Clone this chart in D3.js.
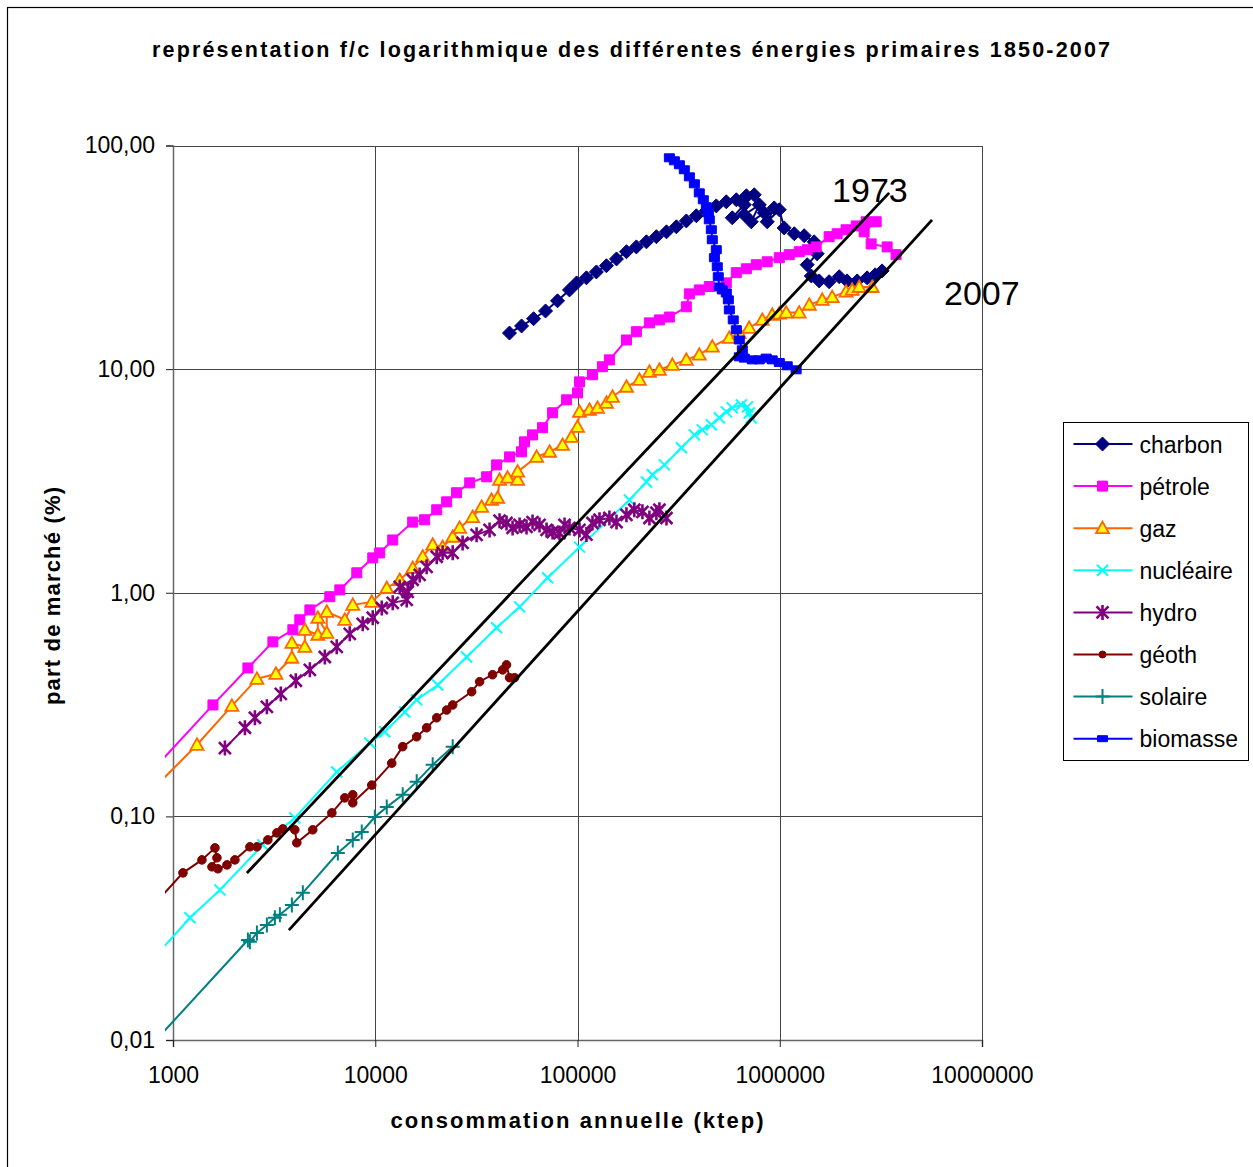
<!DOCTYPE html>
<html>
<head>
<meta charset="utf-8">
<script src="https://cdn.jsdelivr.net/npm/d3@7"></script>
<style>
  body { margin: 0; background: #fff; }
  text { font-family: "Liberation Sans", Arial, sans-serif; }
</style>
</head>
<body>
<div id="chart"></div>
<script>
// values: [consommation annuelle (ktep), part de marché (%)]
const charbon = [[46100,14.5],[52900,15.6],[60640,16.8],[69500,18.2],[79640,20.2],[91270,22.6],[99000,24.3],[110700,25.6],[124000,27.2],[139000,29.0],[155900,31.1],[174600,33.5],[195500,35.2],[219200,37.1],[245500,39.1],[275400,41.1],[308300,43.3],[345300,46.0],[387000,48.5],[433500,51.1],[485500,53.7],[544200,56.0],[610000,57.2],[683900,59.6],[748000,60.2],[668200,54.3],[582400,47.5],[668200,49.0],[792000,54.3],[722800,45.6],[837500,50.0],[939000,52.6],[867000,45.6],[995000,51.6],[1052000,42.8],[1180000,40.3],[1321000,39.5],[1479000,37.1],[1531000,32.8],[1367000,29.3],[1432000,26.1],[1567000,24.8],[1754000,24.6],[1968000,25.9],[2153000,24.8],[2415000,24.8],[2704000,25.6],[2965000,26.4],[3206000,27.5]];
const petrole = [[787,0.160],[1576,0.315],[2346,0.461],[3118,0.603],[3914,0.683],[4236,0.757],[4750,0.838],[5960,0.960],[6680,1.03],[8105,1.228],[9720,1.432],[10520,1.507],[12200,1.722],[15310,2.07],[17540,2.12],[20130,2.35],[22540,2.55],[25230,2.80],[29300,3.10],[35540,3.30],[39800,3.73],[46140,4.05],[52850,4.27],[54700,4.73],[59940,5.08],[67140,5.47],[75300,6.38],[88300,7.29],[100000,7.83],[102300,8.77],[118600,9.44],[132800,10.25],[143800,11.0],[174600,13.5],[195500,14.7],[226800,16.1],[254100,16.6],[284600,17.1],[345300,19.0],[357400,21.7],[400000,22.6],[448400,23.4],[544200,24.3],[609900,27.0],[683900,28.1],[765600,29.3],[867000,30.2],[995000,31.5],[1114000,32.5],[1248000,33.5],[1367000,34.2],[1514000,35.2],[1754000,39.1],[1923000,40.3],[2128000,42.0],[2388000,43.7],[2673000,45.6],[2997000,45.6],[2614000,41.1],[2831000,36.3],[3396000,35.2],[3760000,32.5]];
const gaz = [[787,0.131],[1314,0.209],[1955,0.312],[2600,0.412],[3226,0.434],[3870,0.512],[3870,0.597],[4487,0.573],[4487,0.683],[5200,0.649],[5200,0.773],[5757,0.662],[5757,0.822],[7066,0.757],[7741,0.883],[9610,0.910],[11400,1.05],[13210,1.14],[15310,1.29],[17170,1.45],[19230,1.64],[21530,1.60],[24150,1.78],[26130,1.95],[30290,2.18],[33560,2.42],[37580,2.60],[40270,2.66],[41170,3.20],[45100,3.27],[50580,3.20],[50580,3.48],[62800,4.05],[72780,4.27],[84330,4.58],[93370,4.98],[100000,5.52],[102300,6.44],[114600,6.58],[125600,6.71],[139000,7.07],[148900,7.52],[174600,8.34],[202300,8.96],[226800,9.73],[254100,9.93],[294500,10.45],[345300,11.0],[400000,11.6],[464000,12.6],[563000,13.8],[631000,14.5],[706000,15.3],[820000,16.6],[918000,17.5],[995000,17.7],[1076000,17.9],[1248000,17.9],[1400000,19.4],[1622000,20.4],[1817000,21.0],[2128000,22.2],[2280000,22.6],[2470000,23.3],[2864000,23.3]];
const nucleaire = [[787,0.0228],[1213,0.0352],[1706,0.0469],[2782,0.0746],[4002,0.0985],[6450,0.158],[9400,0.213],[11140,0.239],[13990,0.293],[16030,0.332],[20370,0.387],[28300,0.516],[39810,0.697],[51740,0.865],[71110,1.167],[102300,1.60],[180600,2.60],[219200,3.13],[234700,3.37],[269000,3.73],[326400,4.45],[378300,5.08],[414100,5.35],[458900,5.64],[502300,6.06],[544200,6.44],[582400,6.71],[645700,6.92],[691800,6.78],[706300,6.37],[722800,6.06]];
const hydro = [[1806,0.202],[2268,0.249],[2541,0.276],[2912,0.309],[3413,0.353],[4049,0.404],[4750,0.452],[5633,0.516],[6450,0.573],[7482,0.655],[8670,0.726],[9720,0.773],[10770,0.855],[12200,0.901],[14310,0.929],[13210,1.062],[15310,1.143],[14470,1.009],[16580,1.202],[17950,1.306],[20130,1.449],[21530,1.508],[24150,1.508],[27040,1.671],[31700,1.815],[36750,1.91],[41170,2.10],[44570,2.05],[47750,1.95],[51740,2.01],[55970,1.97],[59940,2.07],[64900,2.01],[70300,1.91],[75300,1.87],[81470,1.85],[86300,2.01],[91270,1.95],[102300,1.91],[110700,1.82],[118600,2.05],[128500,2.12],[143800,2.16],[155900,2.07],[174600,2.23],[191000,2.35],[209500,2.30],[226800,2.16],[245500,2.28],[254100,2.35],[275400,2.16]];
const geoth = [[787,0.0394],[1120,0.0559],[1390,0.0639],[1612,0.0723],[1649,0.0653],[1558,0.0595],[1668,0.0583],[1849,0.0607],[2023,0.0639],[2400,0.0731],[2600,0.0731],[2944,0.0785],[3263,0.0844],[3491,0.0879],[4002,0.0871],[4095,0.0762],[4910,0.0871],[6100,0.1037],[7066,0.121],[7741,0.125],[7741,0.115],[9610,0.138],[12060,0.173],[13670,0.205],[16030,0.227],[17950,0.249],[20130,0.276],[22540,0.299],[24150,0.315],[29970,0.361],[32810,0.400],[38020,0.430],[42660,0.452],[44570,0.476],[46140,0.417],[48860,0.417]];
const solaire = [[400,0.0049],[2346,0.0280],[2400,0.0275],[2600,0.0301],[2912,0.0327],[3190,0.0352],[3377,0.0363],[3870,0.0402],[4385,0.0455],[6531,0.0686],[7741,0.0785],[8576,0.0852],[9950,0.0993],[11400,0.110],[13670,0.125],[16030,0.143],[19230,0.170],[24150,0.205]];
const biomasse = [[284600,88.1],[301300,85.4],[319000,82.0],[337400,77.9],[357400,72.4],[378300,67.4],[400000,61.4],[418800,57.2],[433500,53.2],[443600,50.0],[448400,46.5],[458900,42.0],[464000,37.9],[485500,34.2],[475300,31.5],[491000,28.7],[496600,25.9],[502300,23.3],[520000,22.6],[544200,21.9],[557000,20.4],[563400,18.4],[589000,16.6],[609900,15.0],[631000,13.5],[653100,12.2],[631000,11.35],[668200,11.2],[731700,11.0],[792000,11.0],[857000,11.2],[918000,11.0],[995000,10.7],[1089000,10.35],[1205000,9.93]];

const seriesNames = ["charbon", "pétrole", "gaz", "nucléaire", "hydro", "géoth", "solaire", "biomasse"];
const seriesValues = [charbon, petrole, gaz, nucleaire, hydro, geoth, solaire, biomasse];

// the two drawn lines and their year labels
const trend1973 = [[2319,0.0558],[3475000,61.4]];
const trend2007 = [[3741,0.0310],[5662000,46.5]];
const trendLabels = [["1973", 1815000, 56], ["2007", 6490000, 19.4]];

const xTicks = [1000, 10000, 100000, 1000000, 10000000];
const yTicks = [0.01, 0.1, 1, 10, 100];

const titleText = "représentation f/c logarithmique des différentes énergies primaires 1850-2007";
const xLabel = "consommation annuelle (ktep)";
const yLabel = "part de marché (%)";

// looks
const styles = [
  {color: "#000080", marker: "diamond"},
  {color: "#FF00FF", marker: "square"},
  {color: "#FF6600", marker: "triangle"},
  {color: "#00FFFF", marker: "x"},
  {color: "#800080", marker: "star"},
  {color: "#800000", marker: "circle"},
  {color: "#008080", marker: "plus"},
  {color: "#0000FF", marker: "dash"}
];

const W = 1253, H = 1167;
const plot = {left: 173, right: 982, top: 145.5, bottom: 1040};

const svg = d3.select("#chart").append("svg")
    .attr("width", W)
    .attr("height", H);

svg.append("rect").attr("width", W).attr("height", H).attr("fill", "#fff");

// chart border (right and bottom fall outside the picture)
svg.append("rect")
    .attr("x", 7.5).attr("y", 7.5)
    .attr("width", W + 20).attr("height", H + 20)
    .attr("fill", "none").attr("stroke", "#000").attr("stroke-width", 1.2);

const x = d3.scaleLog().domain([1000, 10000000]).range([plot.left, plot.right]);
const y = d3.scaleLog().domain([0.01, 100]).range([plot.bottom, plot.top]);

// Gridlines
const grid = svg.append("g").attr("stroke", "#444").attr("stroke-width", 1).attr("shape-rendering", "crispEdges");
grid.selectAll(".vg").data(xTicks).enter().append("line")
    .attr("x1", d => Math.round(x(d)) + 0.5).attr("x2", d => Math.round(x(d)) + 0.5)
    .attr("y1", plot.top).attr("y2", plot.bottom);
grid.selectAll(".hg").data(yTicks).enter().append("line")
    .attr("y1", d => Math.round(y(d)) + 0.5).attr("y2", d => Math.round(y(d)) + 0.5)
    .attr("x1", plot.left).attr("x2", plot.right);

// Axes
const yAxis = svg.append("g")
    .attr("transform", `translate(${plot.left},0)`)
    .call(d3.axisLeft(y).tickValues(yTicks).tickSize(7).tickPadding(11)
      .tickFormat(d => d.toFixed(2).replace(".", ",")));
const xAxis = svg.append("g")
    .attr("transform", `translate(0,${plot.bottom})`)
    .call(d3.axisBottom(x).tickValues(xTicks).tickSize(7).tickPadding(20)
      .tickFormat(d3.format("d")));
[xAxis, yAxis].forEach(a => {
  a.select(".domain").attr("stroke", "#666").attr("stroke-width", 1.5);
  a.selectAll(".tick line").attr("stroke", "#222");
  a.selectAll("text").attr("font-size", 23).attr("fill", "#000")
    .style("font-family", "'Liberation Sans', Arial, sans-serif");
});

// Titles
svg.append("text")
    .attr("x", 631).attr("y", 57)
    .attr("text-anchor", "middle")
    .attr("font-size", 21.5).attr("font-weight", "bold")
    .attr("textLength", 958).attr("lengthAdjust", "spacing")
    .text(titleText);

svg.append("text")
    .attr("x", 577).attr("y", 1128)
    .attr("text-anchor", "middle")
    .attr("font-size", 22).attr("font-weight", "bold")
    .attr("textLength", 373).attr("lengthAdjust", "spacing")
    .text(xLabel);

svg.append("text")
    .attr("transform", "translate(60,596) rotate(-90)")
    .attr("text-anchor", "middle")
    .attr("font-size", 22).attr("font-weight", "bold")
    .attr("textLength", 218).attr("lengthAdjust", "spacing")
    .text(yLabel);

// Markers
function markerPath(type) {
  switch (type) {
    case "diamond": return "M0,-7L7,0L0,7L-7,0Z";
    case "square": return "M-5,-5h10v10h-10Z";
    case "triangle": return "M0,-6.5L6.5,5L-6.5,5Z";
    case "x": return "M-5.5,-5.5L5.5,5.5M-5.5,5.5L5.5,-5.5";
    case "star": return "M-6,-6L6,6M-6,6L6,-6M0,-7.5V7.5";
    case "circle": return "M4.3,0A4.3,4.3 0 1,1 -4.3,0A4.3,4.3 0 1,1 4.3,0Z";
    case "plus": return "M-7,0H7M0,-7.5V7.5";
    case "dash": return "M-5,-4h10v8h-10Z";
  }
}
function legendMarkerPath(type) {
  if (type === "dash") return "M-5,-3h10v6h-10Z";
  if (type === "circle") return "M3.5,0A3.5,3.5 0 1,1 -3.5,0A3.5,3.5 0 1,1 3.5,0Z";
  return markerPath(type);
}
function markerFill(s) {
  if (s.marker === "triangle") return "#FFFF00";
  if (s.marker === "x" || s.marker === "star" || s.marker === "plus") return "none";
  return s.color;
}
function markerStrokeWidth(s) {
  if (s.marker === "triangle") return 1.8;
  if (s.marker === "star") return 2.6;
  if (s.marker === "x" || s.marker === "plus") return 2;
  return 1;
}

svg.append("clipPath").attr("id", "plotclip")
  .append("rect")
    .attr("x", 165).attr("y", plot.top)
    .attr("width", plot.right - 165).attr("height", plot.bottom - plot.top);

const plotG = svg.append("g").attr("clip-path", "url(#plotclip)");

const line = d3.line().x(d => x(d[0])).y(d => y(d[1]));

seriesValues.forEach((vals, i) => {
  const s = styles[i];
  const g = plotG.append("g").attr("class", "series");
  g.append("path")
      .datum(vals)
      .attr("d", line)
      .attr("fill", "none")
      .attr("stroke", s.color)
      .attr("stroke-width", 2);
  g.selectAll(".mk").data(vals).enter().append("path")
      .attr("class", "mk")
      .attr("transform", d => `translate(${x(d[0])},${y(d[1])})`)
      .attr("d", markerPath(s.marker))
      .attr("fill", markerFill(s))
      .attr("stroke", s.color)
      .attr("stroke-width", markerStrokeWidth(s));
});

// Trend lines
plotG.selectAll(".trend").data([trend1973, trend2007]).enter().append("path")
    .attr("class", "trend")
    .attr("d", line)
    .attr("fill", "none")
    .attr("stroke", "#000")
    .attr("stroke-width", 2.8);

svg.selectAll(".trendlabel").data(trendLabels).enter().append("text")
    .attr("class", "trendlabel")
    .attr("x", d => x(d[1])).attr("y", d => y(d[2]))
    .attr("font-size", 34)
    .text(d => d[0]);

// Legend
const legend = svg.append("g").attr("transform", "translate(1063.5,422.5)");
legend.append("rect")
    .attr("width", 185).attr("height", 338)
    .attr("fill", "#fff").attr("stroke", "#000").attr("stroke-width", 1);
const items = legend.selectAll(".item").data(seriesNames).enter().append("g")
    .attr("class", "item")
    .attr("transform", (d, i) => `translate(0,${21.5 + i * 42.1})`);
items.append("line")
    .attr("x1", 10).attr("x2", 69)
    .attr("stroke", (d, i) => styles[i].color).attr("stroke-width", 2);
items.append("path")
    .attr("transform", "translate(39,0)")
    .attr("d", (d, i) => legendMarkerPath(styles[i].marker))
    .attr("fill", (d, i) => markerFill(styles[i]))
    .attr("stroke", (d, i) => styles[i].color)
    .attr("stroke-width", (d, i) => markerStrokeWidth(styles[i]));
items.append("text")
    .attr("x", 76).attr("y", 8.5)
    .attr("font-size", 23)
    .text(d => d);
</script>
</body>
</html>
